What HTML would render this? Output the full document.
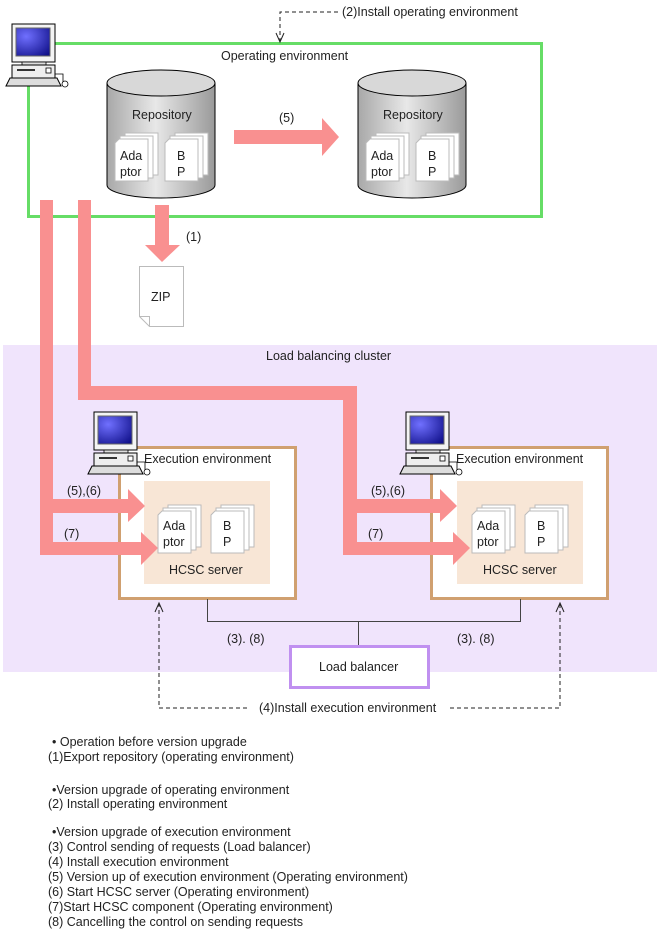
<!DOCTYPE html>
<html><head><meta charset="utf-8"><style>
html,body{margin:0;padding:0;background:#fff;}
svg{display:block;font-family:"Liberation Sans",Arial,sans-serif;font-size:12.5px;fill:#222;}
</style></head><body>
<svg width="660" height="933" viewBox="0 0 660 933" xmlns="http://www.w3.org/2000/svg">
<defs>
<linearGradient id="cyl" x1="0" x2="1" y1="0" y2="0">
<stop offset="0" stop-color="#a8a8a8"/><stop offset="0.45" stop-color="#e8e8e8"/><stop offset="1" stop-color="#9a9a9a"/>
</linearGradient>
<radialGradient id="scr" cx="0.3" cy="0.3" r="0.9">
<stop offset="0" stop-color="#7070ff"/><stop offset="1" stop-color="#10108a"/>
</radialGradient>
<g id="pc">
<rect x="4" y="0" width="43" height="38" fill="#f4f4f4" stroke="#000"/>
<rect x="8" y="4" width="34" height="28" fill="url(#scr)" stroke="#666"/>
<rect x="14" y="38" width="24" height="3" fill="#ddd" stroke="#000" stroke-width="0.8"/>
<rect x="4" y="41" width="43" height="13" fill="#eee" stroke="#000"/>
<rect x="9" y="45" width="18" height="2" fill="#333"/>
<rect x="38" y="44" width="5" height="5" fill="#fff" stroke="#000" stroke-width="0.8"/>
<path d="M-2 62 L2 54 L49 54 L53 62 Z" fill="#ddd" stroke="#000"/>
<path d="M47 50 L55 50 L55 58" fill="none" stroke="#000" stroke-width="0.8"/>
<circle cx="57" cy="60" r="3" fill="#fff" stroke="#000" stroke-width="0.8"/>
</g>
<g id="doc">
<rect x="10" y="0" width="33" height="42" fill="#fff" stroke="#bbb"/>
<rect x="5" y="3" width="33" height="42" fill="#fff" stroke="#bbb"/>
<path d="M0 10 L4 6 L33 6 L33 48 L0 48 Z" fill="#fff" stroke="#bbb"/>
</g>
<g id="cylinder">
<path d="M0 13 L0 115 A54 13 0 0 0 108 115 L108 13" fill="url(#cyl)" stroke="#000"/>
<ellipse cx="54" cy="13" rx="54" ry="13" fill="#d8d8d8" stroke="#000"/>
</g>
</defs>

<rect x="3" y="345" width="654" height="327" fill="#f0e4fc"/>
<text x="266" y="360">Load balancing cluster</text>

<rect x="28.5" y="43.5" width="513" height="173" fill="none" stroke="#66dd66" stroke-width="3"/>
<text x="221" y="60">Operating environment</text>

<path d="M338 12 L280 12 L280 42" fill="none" stroke="#222" stroke-dasharray="4,3"/>
<path d="M276 33 L280 42 L284 33" fill="none" stroke="#222"/>
<text x="342" y="16">(2)Install operating environment</text>

<use href="#pc" x="8" y="24"/>

<use href="#cylinder" x="107" y="70"/>
<text x="132" y="119">Repository</text>
<use href="#doc" x="115" y="133"/>
<text x="120" y="160">Ada</text><text x="120" y="176">ptor</text>
<use href="#doc" x="165" y="133"/>
<text x="177" y="160">B</text><text x="177" y="176">P</text>

<use href="#cylinder" x="358" y="70"/>
<text x="383" y="119">Repository</text>
<use href="#doc" x="366" y="133"/>
<text x="371" y="160">Ada</text><text x="371" y="176">ptor</text>
<use href="#doc" x="416" y="133"/>
<text x="428" y="160">B</text><text x="428" y="176">P</text>

<path d="M234 130 L322 130 L322 118 L339 137 L322 156 L322 144 L234 144 Z" fill="#f99090"/>
<text x="279" y="122">(5)</text>

<path d="M155 205 L169 205 L169 245 L180 245 L162 262 L145 245 L155 245 Z" fill="#f99090"/>
<text x="186" y="241">(1)</text>
<path d="M139.5 266.5 L183.5 266.5 L183.5 326.5 L149.5 326.5 L139.5 316.5 Z" fill="#fff" stroke="#bbb"/>
<path d="M139.5 316.5 L149.5 316.5 L149.5 326.5" fill="none" stroke="#bbb"/>
<text x="151" y="301">ZIP</text>

<!-- Exec env boxes -->
<rect x="119.5" y="447.5" width="176" height="151" fill="#fff" stroke="#d0a070" stroke-width="3"/>
<rect x="144" y="481" width="126" height="103" fill="#f8e6d6"/>
<rect x="431.5" y="447.5" width="176" height="151" fill="#fff" stroke="#d0a070" stroke-width="3"/>
<rect x="457" y="481" width="126" height="103" fill="#f8e6d6"/>

<!-- pink paths -->
<path d="M40 200 L53 200 L53 499 L128 499 L128 489 L145 506 L128 522 L128 513 L53 513 L53 542 L141 542 L141 532 L158 548 L141 565 L141 555 L40 555 Z" fill="#f99090"/>
<path d="M78 200 L91 200 L91 386 L357 386 L357 499 L440 499 L440 489 L457 506 L440 522 L440 513 L357 513 L357 542 L453 542 L453 532 L470 548 L453 565 L453 555 L343 555 L343 400 L78 400 Z" fill="#f99090"/>

<use href="#pc" x="90" y="412"/>
<text x="144" y="463">Execution environment</text>
<use href="#doc" x="158" y="505"/>
<text x="163" y="530">Ada</text><text x="163" y="546">ptor</text>
<use href="#doc" x="211" y="505"/>
<text x="223" y="530">B</text><text x="223" y="546">P</text>
<text x="169" y="574">HCSC server</text>
<text x="67" y="495">(5),(6)</text>
<text x="64" y="538">(7)</text>

<use href="#pc" x="402" y="412"/>
<text x="456" y="463">Execution environment</text>
<use href="#doc" x="472" y="505"/>
<text x="477" y="530">Ada</text><text x="477" y="546">ptor</text>
<use href="#doc" x="525" y="505"/>
<text x="537" y="530">B</text><text x="537" y="546">P</text>
<text x="483" y="574">HCSC server</text>
<text x="371" y="495">(5),(6)</text>
<text x="368" y="538">(7)</text>

<path d="M207.5 599 L207.5 621.5 L520.5 621.5 L520.5 599 M358.5 621 L358.5 646" fill="none" stroke="#444"/>
<text x="227" y="643">(3).  (8)</text>
<text x="457" y="643">(3).  (8)</text>
<rect x="290.5" y="646.5" width="138" height="41" fill="#fff" stroke="#c090f0" stroke-width="3"/>
<text x="319" y="671">Load balancer</text>

<path d="M159 603 L159 708 L248 708 M450 708 L560 708 L560 603" fill="none" stroke="#222" stroke-dasharray="4,3"/>
<path d="M155 612 L159 603 L163 612 M556 612 L560 603 L564 612" fill="none" stroke="#222"/>
<text x="259" y="712">(4)Install execution environment</text>

<text x="52" y="746">• Operation before version upgrade</text>
<text x="48" y="761">(1)Export repository (operating environment)</text>
<text x="52" y="794">•Version upgrade of operating environment</text>
<text x="48" y="808">(2) Install operating environment</text>
<text x="52" y="836">•Version upgrade of execution environment</text>
<text x="48" y="851">(3) Control sending of requests (Load balancer)</text>
<text x="48" y="866">(4) Install execution environment</text>
<text x="48" y="881">(5) Version up of execution environment (Operating environment)</text>
<text x="48" y="896">(6) Start HCSC server (Operating environment)</text>
<text x="48" y="911">(7)Start HCSC component (Operating environment)</text>
<text x="48" y="926">(8) Cancelling the control on sending requests</text>
</svg>
</body></html>
